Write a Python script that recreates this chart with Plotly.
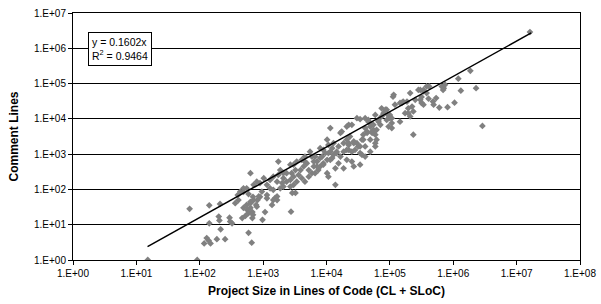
import numpy as np
import plotly.graph_objects as go

# Data stored as (log10 project size, log10 comment lines) pairs
small_projects = [
    (1.18, 0.00), (1.96, 0.00), (1.84, 1.45), (2.07, 0.47), (2.17, 0.47), (2.14, 0.55),
    (2.11, 0.62), (2.27, 0.59), (2.40, 0.59), (2.15, 1.55), (2.32, 1.59), (2.15, 1.04),
    (2.30, 1.23), (2.31, 1.12), (2.47, 1.20), (2.48, 1.09), (2.51, 1.04), (2.33, 0.87),
    (2.77, 0.77), (2.82, 0.49), (2.60, 1.84), (2.64, 1.94), (2.69, 2.03), (2.56, 1.61),
    (2.61, 1.70), (2.80, 2.46), (2.69, 1.93), (2.77, 1.87), (2.84, 1.79), (2.80, 1.65),
    (2.91, 1.70), (2.95, 1.79), (2.69, 1.48), (2.75, 1.42), (2.80, 1.48), (2.83, 1.36),
    (2.77, 1.33), (2.84, 1.28), (2.72, 1.25), (2.83, 1.19), (2.67, 1.19), (2.99, 1.14),
    (3.03, 1.36), (2.89, 1.56),
]

medium_projects = [
    (3.24, 2.79), (3.44, 1.37), (3.06, 1.84), (3.14, 1.56), (3.19, 1.76), (3.22, 1.70),
    (3.46, 1.90), (3.51, 1.90), (3.43, 2.70), (3.27, 2.55), (3.37, 2.46), (3.32, 2.32),
    (3.16, 2.36), (3.22, 2.22), (3.11, 2.27), (3.06, 2.13), (3.01, 2.32), (2.95, 2.18),
    (2.90, 2.22), (2.85, 2.13), (2.74, 2.03), (3.48, 2.13), (3.53, 2.22), (3.43, 2.08),
    (3.32, 2.08), (3.27, 2.03), (3.16, 1.99), (3.11, 2.03), (3.22, 1.80), (3.16, 1.70),
    (3.06, 1.75), (2.98, 1.94), (2.93, 1.80), (2.85, 1.70), (2.80, 1.61), (2.74, 1.56),
    (2.90, 1.51), (3.74, 3.07), (3.77, 2.93), (3.85, 2.79), (3.90, 2.65), (3.80, 2.65),
    (3.69, 2.74), (3.64, 2.65), (3.72, 2.55), (3.59, 2.55), (3.56, 2.41), (3.61, 2.32),
    (3.66, 2.22), (3.72, 2.36), (3.77, 2.46), (3.82, 2.46), (3.90, 3.17), (4.03, 3.26),
    (4.06, 3.07), (4.11, 2.98), (4.16, 3.07), (4.14, 2.13), (4.19, 2.74), (4.06, 2.84),
    (4.22, 2.93), (4.27, 3.31), (4.32, 3.41), (4.35, 3.12), (4.06, 3.74), (4.22, 3.60),
    (4.32, 3.78), (4.01, 2.46), (4.03, 2.36), (3.93, 2.93), (3.98, 3.03), (3.95, 2.74),
    (3.87, 2.55), (3.66, 2.93), (3.61, 2.84), (3.53, 2.79), (3.48, 2.70), (3.51, 2.55),
    (3.45, 2.46), (3.48, 2.36), (3.43, 2.27), (3.37, 2.22), (3.30, 2.18), (3.32, 2.46),
    (3.24, 2.41),
]

large_projects = [
    (4.35, 3.83), (4.48, 4.02), (4.61, 4.02), (4.69, 3.88), (4.77, 4.11), (4.82, 3.97),
    (4.37, 3.50), (4.43, 3.36), (4.48, 3.31), (4.35, 3.26), (4.32, 3.12), (4.40, 3.07),
    (4.45, 3.12), (4.50, 3.22), (4.56, 3.41), (4.58, 3.55), (4.64, 3.60), (4.72, 3.60),
    (4.69, 3.41), (4.61, 3.22), (4.53, 3.03), (4.61, 2.93), (4.69, 3.07), (4.77, 3.22),
    (4.79, 3.41), (4.11, 3.31), (4.03, 3.03), (3.95, 3.12), (3.90, 2.89), (3.82, 2.93),
    (3.80, 2.79), (3.66, 2.79), (3.85, 2.65), (3.95, 2.70), (4.01, 2.84), (4.09, 2.89),
    (4.16, 3.03), (4.14, 2.60), (4.27, 2.60), (4.32, 2.84), (4.40, 2.79), (4.43, 2.65),
    (4.53, 2.70), (5.32, 4.73), (5.45, 4.82), (5.58, 4.92), (5.06, 4.68), (5.08, 4.40),
    (5.19, 4.45), (5.27, 4.49), (5.29, 4.30), (5.35, 4.35), (5.37, 4.21), (5.29, 4.16),
    (5.32, 4.07), (5.48, 4.54), (5.53, 4.40), (4.95, 4.26), (4.90, 4.16), (5.00, 4.11),
    (5.03, 4.02), (4.95, 3.97), (4.87, 4.07), (4.82, 3.92), (4.85, 3.83), (4.98, 3.78),
    (5.03, 3.88), (5.16, 3.92), (5.37, 3.55), (4.53, 3.99), (4.66, 3.92), (4.69, 3.78),
    (4.61, 3.74), (4.64, 3.64), (4.72, 3.64), (4.74, 3.83), (4.79, 3.69), (4.77, 3.55),
    (4.24, 3.64), (4.40, 3.83), (4.77, 3.31), (4.53, 3.22), (4.35, 3.31), (4.01, 3.41),
    (4.09, 3.17), (4.19, 3.22), (4.27, 3.07), (4.56, 2.98), (5.05, 4.63), (4.93, 4.26),
    (4.87, 4.30), (4.97, 4.11), (5.00, 4.02), (5.03, 3.74), (4.66, 3.97), (4.74, 3.69),
    (4.43, 3.31), (4.58, 3.41),
]

huge_projects = [
    (7.21, 6.46), (6.27, 5.36), (6.08, 5.14), (6.36, 4.87), (6.12, 4.80), (6.46, 3.80),
    (6.02, 4.46), (5.91, 4.33), (5.78, 4.32), (5.69, 4.40), (5.68, 4.49), (5.73, 4.59),
    (5.61, 4.57), (5.50, 4.62), (5.50, 4.45), (5.82, 4.92), (5.85, 4.87), (5.84, 4.82),
    (5.62, 4.92), (5.48, 4.82), (5.40, 4.54), (5.53, 4.78), (5.58, 4.73), (5.24, 4.16),
    (5.21, 4.49), (5.16, 4.45), (5.87, 4.97), (5.53, 4.82),
]

trend_slope = 0.1602
trend_r2 = 0.9464
trend_x = [15.0, 1.7e7]

x_ticks = [10 ** i for i in range(9)]
x_ticktext = ["1.E+%02d" % i for i in range(9)]
y_ticks = [10 ** i for i in range(8)]
y_ticktext = ["1.E+%02d" % i for i in range(8)]

all_pts = small_projects + medium_projects + large_projects + huge_projects
loc = [10 ** a for a, b in all_pts]
comments = [10 ** b for a, b in all_pts]

fig = go.Figure()
fig.add_trace(go.Scatter(
    x=loc, y=comments, mode="markers",
    marker=dict(symbol="diamond", size=5.2, color="#808080", line=dict(width=0)),
    hoverinfo="skip",
))
fig.add_trace(go.Scatter(
    x=trend_x, y=[trend_slope * v for v in trend_x], mode="lines",
    line=dict(color="black", width=1.5),
    hoverinfo="skip",
))

fig.add_annotation(
    xref="paper", yref="paper", x=0.03, y=0.925, xanchor="left", yanchor="top",
    text="y = %.4fx<br>R<sup>2</sup> = %.4f" % (trend_slope, trend_r2),
    showarrow=False, align="left",
    bordercolor="black", borderwidth=1, borderpad=3, bgcolor="white",
    font=dict(size=10.5, color="black"),
)

fig.update_layout(
    width=601, height=304,
    margin=dict(l=73, r=21, t=13, b=44, autoexpand=False),
    plot_bgcolor="white", paper_bgcolor="white",
    showlegend=False,
    font=dict(family="Liberation Sans, Arial, sans-serif", size=10, color="black"),
    xaxis=dict(
        type="log", range=[0, 8], tickvals=x_ticks, ticktext=x_ticktext,
        automargin=False,
        showgrid=False, zeroline=False, showline=True, linecolor="black", linewidth=1,
        mirror=True, ticks="outside", ticklen=4, tickcolor="black",
        title=dict(text="<b>Project Size in Lines of Code (CL + SLoC)</b>",
                   font=dict(size=12), standoff=8),
    ),
    yaxis=dict(
        type="log", range=[0, 7], tickvals=y_ticks, ticktext=y_ticktext,
        automargin=False,
        showgrid=True, gridcolor="black", gridwidth=1, zeroline=False,
        showline=True, linecolor="black", linewidth=1, mirror=True,
        ticks="outside", ticklen=4, tickcolor="black",
        title=dict(text="<b>Comment Lines</b>", font=dict(size=12), standoff=12),
    ),
)

fig.write_html(
    "out.html",
    config={"displayModeBar": False},
    post_script="document.body.style.margin='0px';document.body.style.overflow='hidden';",
)
